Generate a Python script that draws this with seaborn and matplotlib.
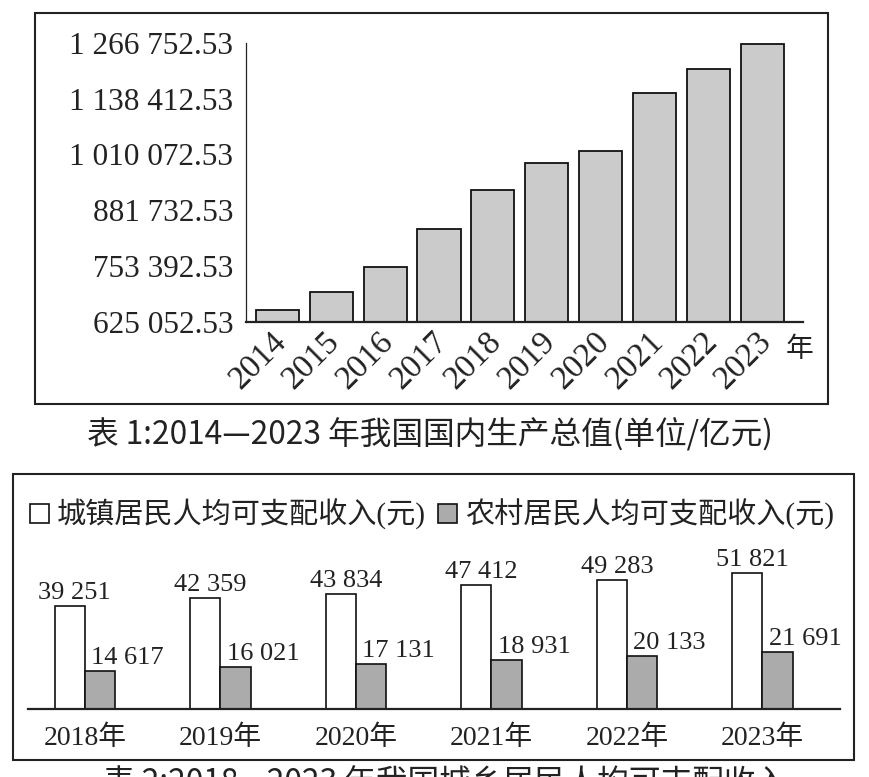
import matplotlib
matplotlib.use("Agg")
import matplotlib.pyplot as plt
import matplotlib.transforms as mtransforms
from matplotlib.patches import Rectangle, Patch
import pandas as pd
import seaborn as sns

# 数据：国内生产总值（亿元）
gdp_years = ["2014", "2015", "2016", "2017", "2018", "2019", "2020", "2021", "2022", "2023"]
gdp_values = [652700, 694000, 751600, 838300, 927900, 989400, 1017700, 1151800, 1206300, 1264900]
gdp_ticks = [625052.53, 753392.53, 881732.53, 1010072.53, 1138412.53, 1266752.53]
gdp_tick_labels = ["625 052.53", "753 392.53", "881 732.53", "1 010 072.53", "1 138 412.53", "1 266 752.53"]

# 数据：居民人均可支配收入（元）
income_years = ["2018年", "2019年", "2020年", "2021年", "2022年", "2023年"]
urban_income = [39251, 42359, 43834, 47412, 49283, 51821]
rural_income = [14617, 16021, 17131, 18931, 20133, 21691]
series_names = ["城镇居民人均可支配收入(元)", "农村居民人均可支配收入(元)"]
palette = ["white", "#ababab"]

caption1 = "表 1:2014—2023 年我国国内生产总值(单位/亿元)"
caption2 = "表 2:2018—2023 年我国城乡居民人均可支配收入"

sns.set_style("white")
plt.rcParams["font.family"] = ["Liberation Serif", "Noto Sans CJK SC"]
cjk = ["Noto Sans CJK SC", "DejaVu Sans"]
ink = "#222222"

W, H = 869, 777
fig = plt.figure(figsize=(W / 100, H / 100), dpi=100)
fig.patch.set_facecolor("white")


def box(l, t, r, b):
    return [l / W, 1 - b / H, (r - l) / W, (b - t) / H]


# 图1
ax1 = fig.add_axes(box(245.7, 42.7, 802.7, 321.7))
sns.barplot(x=gdp_years, y=gdp_values, color="#cbcbcb", saturation=1, width=0.8,
            edgecolor="#111111", linewidth=1.3, ax=ax1)
ax1.set_xlim(-0.588, 9.748)
ax1.set_ylim(gdp_ticks[0], gdp_ticks[-1])
ax1.set_yticks(gdp_ticks, gdp_tick_labels)
ax1.tick_params(axis="both", length=0, colors=ink)
ax1.tick_params(axis="y", pad=9, labelsize=22.5)
ax1.tick_params(axis="x", pad=11, labelsize=24)
shift = mtransforms.ScaledTranslation(4 / 100, 0, fig.dpi_scale_trans)
for lab in ax1.get_xticklabels():
    lab.set_rotation(45)
    lab.set_ha("right")
    lab.set_va("center")
    lab.set_rotation_mode("anchor")
    lab.set_transform(lab.get_transform() + shift)
ax1.set_xlabel("")
ax1.set_ylabel("")
for s in ["top", "right"]:
    ax1.spines[s].set_visible(False)
ax1.spines["left"].set_linewidth(0.9)
ax1.spines["bottom"].set_linewidth(1.6)
ax1.spines["left"].set_color(ink)
ax1.spines["bottom"].set_color(ink)
ax1.text(0.995, -0.098, "年", transform=ax1.transAxes, ha="center", va="center",
         fontsize=20, color=ink, family=cjk)

# 图2
df = pd.DataFrame({
    "年份": income_years * 2,
    "类型": [series_names[0]] * len(urban_income) + [series_names[1]] * len(rural_income),
    "收入": urban_income + rural_income,
})
ax2 = fig.add_axes(box(28, 520, 840, 709.3))
sns.barplot(data=df, x="年份", y="收入", hue="类型", palette=palette, saturation=1,
            width=0.447, edgecolor="#111111", linewidth=1.2, legend=False, ax=ax2)
ax2.set_xlim(-0.42, 5.572)
ax2.set_ylim(0, 72000)
ax2.set_yticks([])
ax2.set_xlabel("")
ax2.set_ylabel("")
ax2.tick_params(axis="x", length=0, pad=12, labelsize=20, colors=ink)
for s in ["top", "right", "left"]:
    ax2.spines[s].set_visible(False)
ax2.spines["bottom"].set_linewidth(1.6)
ax2.spines["bottom"].set_color(ink)

for container, dx, ha in zip(ax2.containers, [5, -9], ["center", "left"]):
    for bar in container:
        h = bar.get_height()
        x = bar.get_x() + bar.get_width() / 2
        ax2.annotate(f"{h:,.0f}".replace(",", " "), xy=(x, h), xytext=(dx * 0.72, 5),
                     textcoords="offset points", ha=ha, va="baseline",
                     fontsize=19, color=ink)

handles = [Patch(facecolor=c, edgecolor="#111111", linewidth=1.2) for c in palette]
fig.legend(handles, series_names, ncol=2, loc="upper left",
           bbox_to_anchor=(30 / W, 1 - 499 / H), frameon=False, fontsize=21,
           handlelength=0.65, handleheight=0.65, handletextpad=0.28,
           columnspacing=0.4, borderpad=0, borderaxespad=0, labelcolor=ink)

# 外框与标题
fig.add_artist(Rectangle((35 / W, 1 - 404 / H), 793 / W, 391 / H, transform=fig.transFigure,
                         fill=False, lw=1.5, ec=ink))
fig.add_artist(Rectangle((13 / W, 1 - 760 / H), 841 / W, 286 / H, transform=fig.transFigure,
                         fill=False, lw=1.5, ec=ink))
fig.text(430 / W, 1 - 435 / H, caption1, ha="center", va="center", fontsize=22.8,
         color=ink, family=cjk)
fig.text(445 / W, 1 - 768 / H, caption2, ha="center", va="top", fontsize=22.8,
         color=ink, family=cjk)

fig.savefig("out.png", dpi=100)
